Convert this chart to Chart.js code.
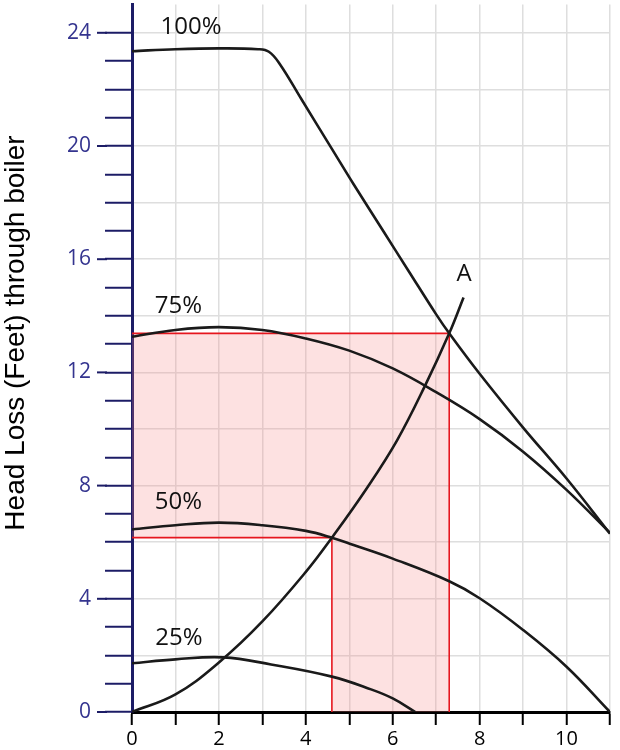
<!DOCTYPE html>
<html>
<head>
<meta charset="utf-8">
<title>Head Loss through boiler</title>
<script src="https://cdn.jsdelivr.net/npm/chart.js@4.4.1/dist/chart.umd.min.js"></script>
<style>
html,body{margin:0;padding:0;background:#ffffff;}
canvas{display:block;}
</style>
</head>
<body>
<canvas id="headChart" width="620" height="750"></canvas>

<script>
// pump curves (flow on x, head loss in feet on y)
const pump100X = [0, 1, 2, 2.9, 3.15, 3.4, 3.9, 4.6, 5.1, 5.8, 6.35, 7.0, 7.3, 8, 9, 10, 11];
const pump100Y = [23.35, 23.42, 23.45, 23.42, 23.33, 22.9, 21.65, 19.9, 18.65, 16.95, 15.62, 14.05, 13.38, 11.95, 10.05, 8.25, 6.3];

const pump75X = [0, 1, 2, 3, 4, 5, 6, 7, 8, 9, 10, 11];
const pump75Y = [13.26, 13.5, 13.6, 13.5, 13.2, 12.77, 12.14, 11.3, 10.35, 9.2, 7.85, 6.33];

const pump50X = [0, 1, 2, 3, 4, 4.6, 5.1, 6, 7.3, 8, 9, 10, 11];
const pump50Y = [6.45, 6.6, 6.69, 6.6, 6.4, 6.16, 5.9, 5.42, 4.62, 4.02, 2.9, 1.6, 0];

const pump25X = [0, 1, 2.1, 3.2, 4.6, 5.5, 6, 6.52];
const pump25Y = [1.72, 1.86, 1.93, 1.68, 1.25, 0.8, 0.48, 0];

// system curve "A"
const systemX = [0, 1, 2, 3, 4, 4.6, 5.4, 6.1, 6.75, 7.3, 7.63];
const systemY = [0, 0.62, 1.75, 3.2, 4.95, 6.16, 7.9, 9.6, 11.55, 13.38, 14.65];

// operating points
const pointA = [7.3, 13.38];
const pointB = [4.6, 6.16];

const xTickLabels = [0, 2, 4, 6, 8, 10];
const yTickLabels = [0, 4, 8, 12, 16, 20, 24];

const curveLabels = ["100%", "75%", "50%", "25%", "A"];
const curveLabelX = [1.36, 1.07, 1.07, 1.08, 7.64];
const curveLabelY = [24.2, 14.35, 7.42, 2.6, 15.48];


function pts(xs, ys){
  return xs.map(function(x, i){ return {x: x, y: ys[i]}; });
}

const navy = "#1c1c66";


const labelsPlugin = {
  id: "labelsPlugin",
  afterDraw: function(chart){
    const ctx = chart.ctx;
    const xs = chart.scales.x;
    const ys = chart.scales.y;

    // longer tick marks at the labelled values
    ctx.save();
    ctx.strokeStyle = navy;
    ctx.lineWidth = 2;
    yTickLabels.forEach(function(v){
      const py = ys.getPixelForValue(v);
      ctx.beginPath();
      ctx.moveTo(ys.right - 35, py);
      ctx.lineTo(ys.right - 25, py);
      ctx.stroke();
    });
    ctx.restore();

    // curve names
    ctx.save();
    ctx.fillStyle = "#111111";
    ctx.font = "24px 'Open Sans'";
    ctx.textAlign = "center";
    ctx.textBaseline = "middle";
    curveLabels.forEach(function(t, i){
      ctx.fillText(t, xs.getPixelForValue(curveLabelX[i]), ys.getPixelForValue(curveLabelY[i]));
    });
    ctx.restore();

    // axis title
    ctx.save();
    ctx.translate(24, 333);
    ctx.rotate(-Math.PI / 2);
    ctx.fillStyle = "#000000";
    ctx.font = "28px 'Liberation Sans'";
    ctx.textAlign = "center";
    ctx.textBaseline = "alphabetic";
    ctx.fillText("Head Loss (Feet) through boiler", 0, 0);
    ctx.restore();
  }
};


function curve(label, xs, ys){
  return {
    label:label,
    data:pts(xs, ys),
    showLine:true,
    borderColor:"#1a1a1a",
    borderWidth:2.6,
    pointRadius:0,
    tension:0.4,
    fill:false,
    order:0
  };
}


document.addEventListener("DOMContentLoaded", function(){

const headChart = new Chart(
document.getElementById("headChart"),
{
type:"scatter",

data:{
datasets:[

{
label:"shade",
data:[{x:0, y:pointA[1]}, {x:pointA[0], y:pointA[1]}],
showLine:true,
borderWidth:0,
pointRadius:0,
backgroundColor:"rgba(245,130,130,0.24)",
fill:"+1",
order:10
},

{
label:"shade base",
data:[{x:0, y:pointB[1]}, {x:pointB[0], y:pointB[1]}, {x:pointB[0], y:0}, {x:pointA[0], y:0}],
showLine:true,
borderWidth:0,
pointRadius:0,
fill:false,
order:10
},

{
label:"A lines",
data:[{x:0, y:pointA[1]}, {x:pointA[0], y:pointA[1]}, {x:pointA[0], y:0}],
showLine:true,
borderColor:"#e6161e",
borderWidth:1.6,
pointRadius:0,
fill:false,
order:5
},

{
label:"B lines",
data:[{x:0, y:pointB[1]}, {x:pointB[0], y:pointB[1]}, {x:pointB[0], y:0}],
showLine:true,
borderColor:"#e6161e",
borderWidth:1.6,
pointRadius:0,
fill:false,
order:5
},

curve("100%", pump100X, pump100Y),
curve("75%", pump75X, pump75Y),
curve("50%", pump50X, pump50Y),
curve("25%", pump25X, pump25Y),
curve("system", systemX, systemY)

]
},

options:{
responsive:false,
animation:false,

layout:{
padding:{top:4.5, right:10, left:0, bottom:0}
},

plugins:{
legend:{display:false},
tooltip:{enabled:false}
},

scales:{

x:{
type:"linear",
min:0,
max:11,
afterFit:function(scale){
  scale.height = 38;
  scale.paddingLeft = 0;
  scale.paddingRight = 0;
},
border:{color:"#000000", width:3},
grid:{
color:"#dedede",
lineWidth:1.5,
tickColor:"#000000",
tickWidth:2,
tickLength:13
},
ticks:{
stepSize:1,
autoSkip:false,
maxRotation:0,
padding:2,
color:"#000000",
font:{family:"'Open Sans'", size:20},
callback:function(v){ return xTickLabels.indexOf(v) >= 0 ? String(v) : ""; }
}
},

y:{
type:"linear",
min:0,
max:25,
afterFit:function(scale){
  scale.width = 132;
  scale.paddingTop = 0;
  scale.paddingBottom = 0;
},
border:{color:navy, width:3},
grid:{
color:function(c){ return c.tick && c.tick.value % 2 === 1 ? "rgba(0,0,0,0)" : "#dedede"; },
lineWidth:1.5,
tickColor:function(c){ return c.tick && c.tick.value > 24 ? "rgba(0,0,0,0)" : navy; },
tickWidth:2,
tickLength:27
},
ticks:{
stepSize:1,
autoSkip:false,
padding:14,
color:"#34348f",
font:{family:"'Open Sans'", size:21},
callback:function(v){ return yTickLabels.indexOf(v) >= 0 ? String(v) : ""; }
}
}

}

},

plugins:[labelsPlugin]

}
);

});
</script>
</body>
</html>
